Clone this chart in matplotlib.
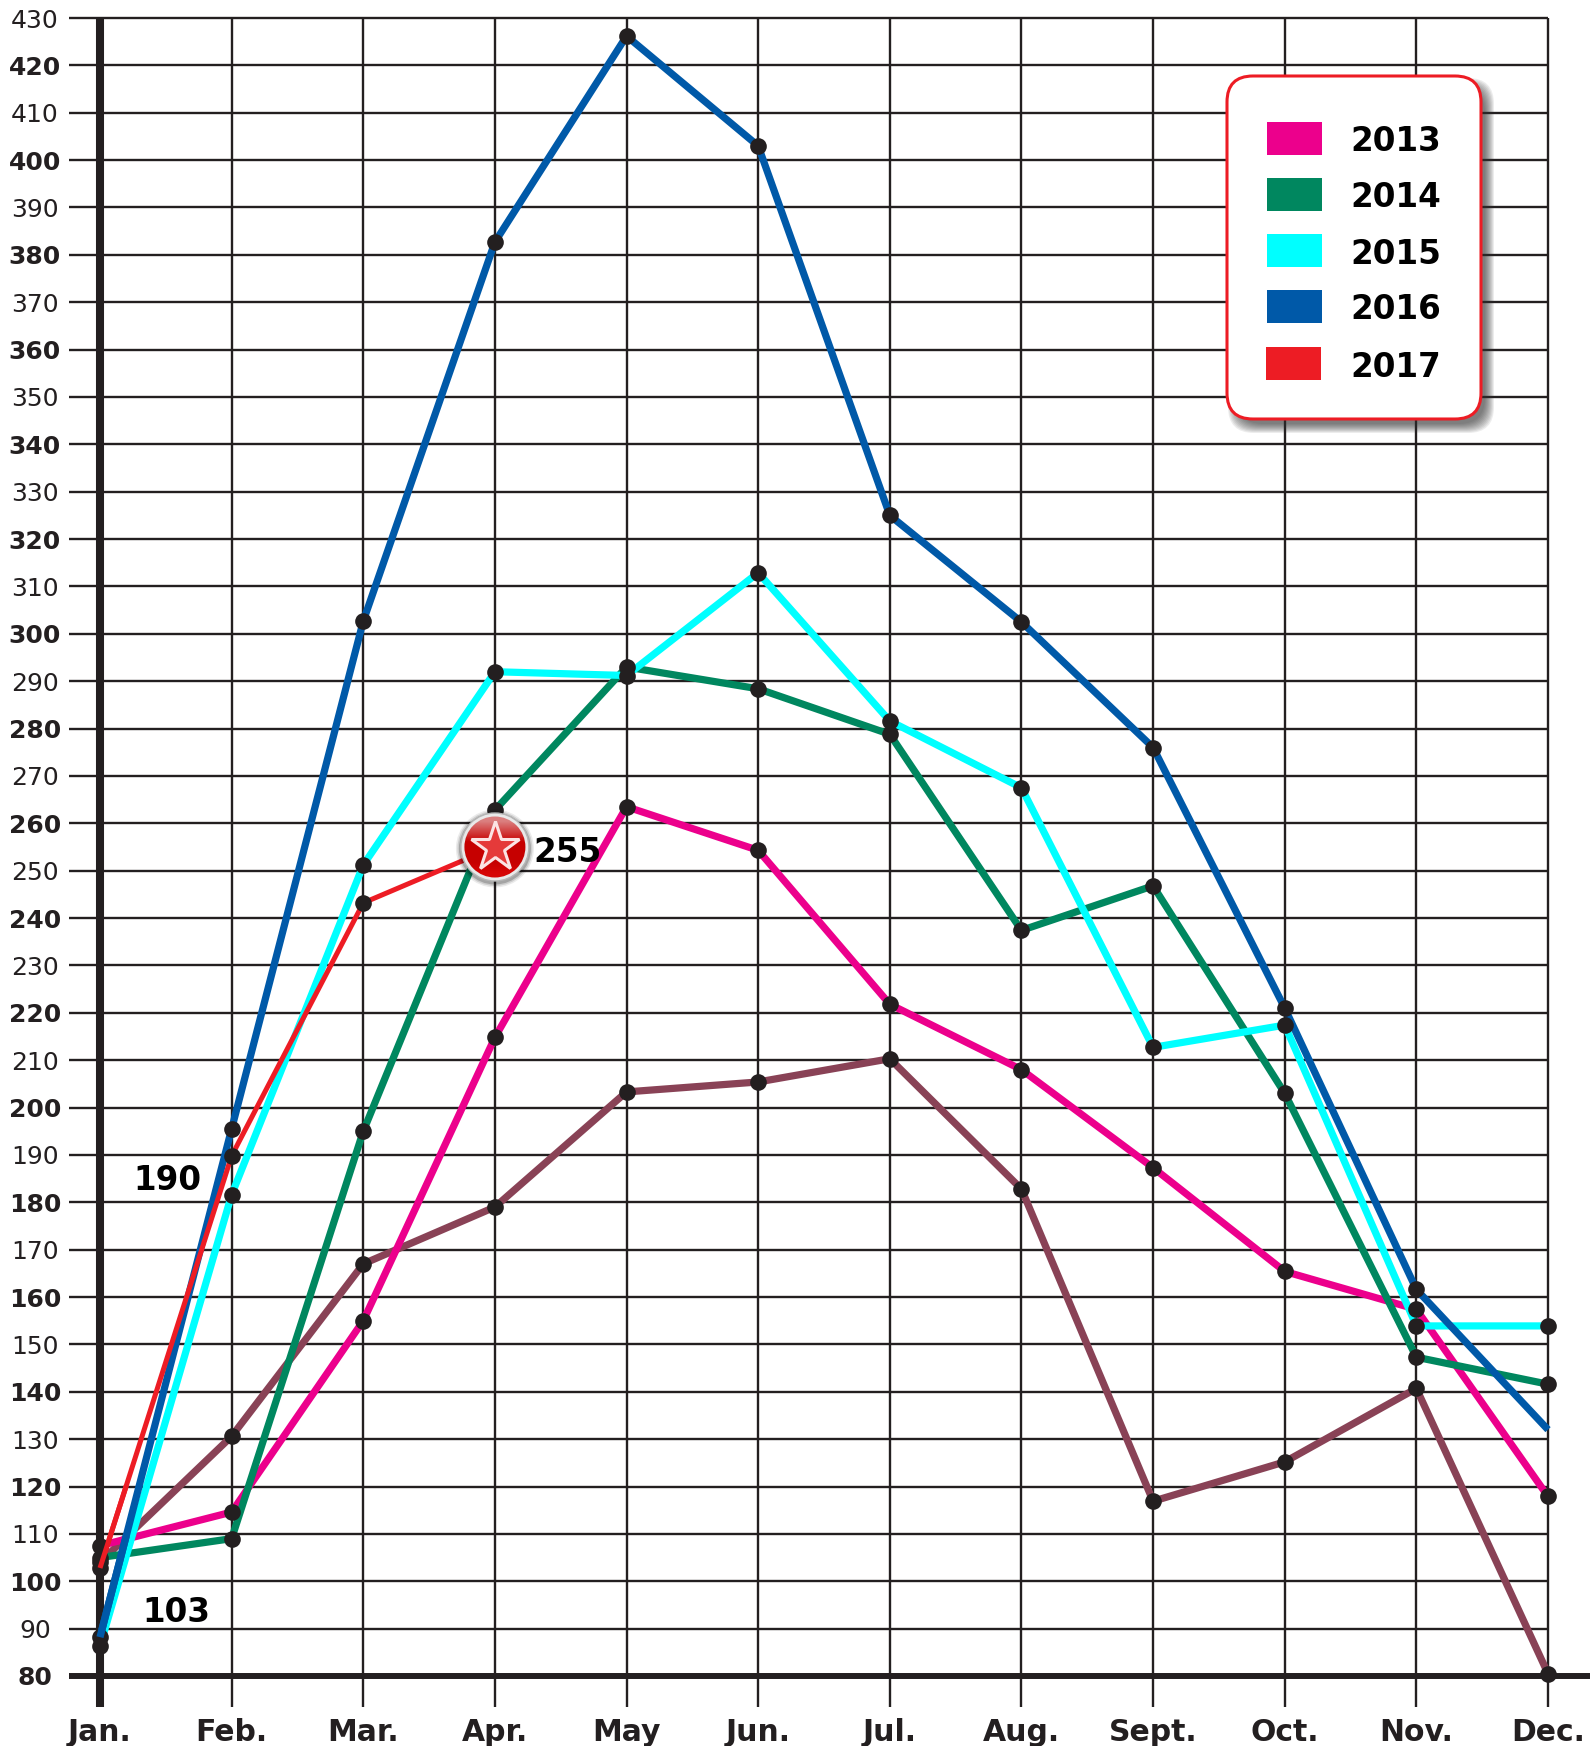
import numpy as np
import matplotlib
matplotlib.use('Agg')
import matplotlib.pyplot as plt
from matplotlib.patches import FancyBboxPatch, Circle, Rectangle

W, H = 1590, 1746
INK = '#231f20'

months = ['Jan.', 'Feb.', 'Mar.', 'Apr.', 'May', 'Jun.', 'Jul.', 'Aug.', 'Sept.', 'Oct.', 'Nov.', 'Dec.']
y_ticks = list(range(80, 431, 10))

brown_vals = [104, 130.6, 167, 179, 203.3, 205.4, 210.3, 182.8, 116.9, 125.2, 140.7, 80.5]
vals_2013 = [107.5, 114.6, 155, 214.8, 263.5, 254.3, 221.8, 208, 187.3, 165.4, 157.4, 117.9]
vals_2014 = [105, 109, 195, 262.8, 293, 288.4, 278.8, 237.4, 246.8, 203, 147.3, 141.6]
vals_2015 = [86.3, 181.6, 251.2, 292, 291.2, 312.9, 281.6, 267.5, 212.7, 217.4, 153.9, 153.9]
vals_2016 = [88.2, 195.5, 302.7, 382.7, 426.2, 403, 325, 302.5, 276, 221, 161.6, 132]
vals_2017 = [102.8, 189.8, 243.2, 255]

legend_years = ['2013', '2014', '2015', '2016', '2017']
legend_colors = ['#ec008c', '#00875f', '#00ffff', '#0059a8', '#ed1c24']

notes = [('190', 0.51, 185.4), ('103', 0.577, 94.1), ('255', 3.555, 254.5)]

# value, colour, width, how many points get a black dot
series = [
    (brown_vals, '#894256', 5.2, 12),
    (vals_2013, '#ec008c', 5.2, 12),
    (vals_2014, '#00875f', 5.2, 12),
    (vals_2015, '#00ffff', 5.2, 12),
    (vals_2016, '#0059a8', 5.2, 11),
    (vals_2017, '#ed1c24', 3.6, 3),
]

plt.rcParams['font.family'] = ['DejaVu Sans']
fig = plt.figure(figsize=(W / 100, H / 100), dpi=100, facecolor='white')
ax = fig.add_axes([69 / W, (H - 1707) / H, (W - 69) / W, (1707 - 18) / H])
step = (1548 - 100) / 11
ax.set_xlim((69 - 100) / step, (W - 100) / step)
ax.set_ylim(80 - (1707 - 1676) / 4.737, 430)
for s in ax.spines.values():
    s.set_visible(False)

# grid
x0 = ax.get_xlim()[0]
ax.hlines(y_ticks, x0, 11, color=INK, lw=1.7, clip_on=False, zorder=1)
ax.hlines([80], x0, ax.get_xlim()[1], color=INK, lw=4.3, zorder=1.5)
ax.vlines(range(12), ax.get_ylim()[0], 430, color=INK, lw=1.7, clip_on=False, zorder=1)
ax.vlines([0], ax.get_ylim()[0], 430, color=INK, lw=5.8, clip_on=False, zorder=1.5)

ax.set_xticks(range(12), labels=months)
ax.set_yticks(y_ticks, labels=[str(v) for v in y_ticks])
ax.tick_params(axis='both', length=0)
ax.tick_params(axis='y', pad=24.5)
ax.tick_params(axis='x', pad=8)
for lab, v in zip(ax.get_yticklabels(), y_ticks):
    lab.set_ha('center')
    lab.set_color(INK)
    lab.set_fontsize(18)
    lab.set_fontweight('bold' if v % 20 == 0 else 'normal')
for lab in ax.get_xticklabels():
    lab.set_color(INK)
    lab.set_fontsize(21.5)
    lab.set_fontweight('bold')

# lines, then dots over them
for i, (vals, col, lw, n_dots) in enumerate(series):
    xs = np.arange(len(vals))
    ax.plot(xs, vals, color=col, lw=lw, solid_capstyle='butt', clip_on=False, zorder=2 + i * 0.1)
    ax.plot(xs[:n_dots], vals[:n_dots], ls='none', marker='o', ms=12, mfc=INK, mec=INK, mew=0,
            clip_on=False, zorder=4)

# the first stretch of 2016 and 2017 lies over the January dots
for vals, col, lw, n_dots in series[-2:]:
    ax.plot([0, 0.2], [vals[0], vals[0] + 0.2 * (vals[1] - vals[0])], color=col, lw=lw,
            solid_capstyle='butt', clip_on=False, zorder=5)

for txt, nx, ny in notes:
    ax.text(nx, ny, txt, ha='center', va='center_baseline', fontsize=23.5, fontweight='bold', color='black', zorder=6)

# pixel overlay for legend box and the badge
over = fig.add_axes([0, 0, 1, 1])
over.set_xlim(0, W)
over.set_ylim(H, 0)
over.axis('off')
over.patch.set_visible(False)

bx, by, bw, bh = 1227, 76, 254, 343
for grow in np.arange(6, -4, -1):
    over.add_patch(FancyBboxPatch((bx + 7 - grow, by + 8 - grow), bw + 2 * grow, bh + 2 * grow,
                                  boxstyle='round,pad=0,rounding_size=26', fc='#333333', ec='none', alpha=0.09))
over.add_patch(FancyBboxPatch((bx, by), bw, bh, boxstyle='round,pad=0,rounding_size=26',
                              fc='white', ec='#ed1c24', lw=2.2))
swatch_y = [122, 178, 234, 290, 347]
swatch_x = [1267, 1267, 1267, 1267, 1266]
text_y = [138, 194, 251, 306, 364]
for year, col, sx, sy, ty in zip(legend_years, legend_colors, swatch_x, swatch_y, text_y):
    over.add_patch(Rectangle((sx, sy), 55, 33, fc=col, ec='none'))
    over.text(1350, ty, year, ha='left', va='center_baseline', fontsize=23.5, fontweight='bold', color='black')

# red star badge sitting on the last 2017 point
px = ax.transData.transform((3, vals_2017[3]))
cx, cy = px[0], H - px[1]
for grow, a in [(5, 0.08), (3.5, 0.12), (2, 0.2)]:
    over.add_patch(Circle((cx, cy + 1.5), 34 + grow, fc='black', ec='none', alpha=a))
over.add_patch(Circle((cx, cy), 34, fc='#e9e9e9', ec='#b5b5b5', lw=1))
red_top = np.array([0.86, 0.50, 0.50])
red_low = np.array([0.78, 0.0, 0.0])
stops = [red_top, red_top * 0.5 + red_low * 0.5, red_low, red_low, red_low, np.array([0.84, 0.02, 0.02])]
img = np.array(stops).reshape(-1, 1, 3)
im = over.imshow(img, extent=(cx - 31, cx + 31, cy + 31, cy - 31), interpolation='bilinear',
                 aspect='auto', zorder=3)
im.set_clip_path(Circle((cx, cy), 30.5, transform=over.transData))
over.set_xlim(0, W)
over.set_ylim(H, 0)
over.plot([cx], [cy], marker='*', ms=37, mfc='#e53a3a', mec='#fbe4e4', mew=2.2, ls='none', zorder=4)

fig.savefig('out.png', dpi=100)
